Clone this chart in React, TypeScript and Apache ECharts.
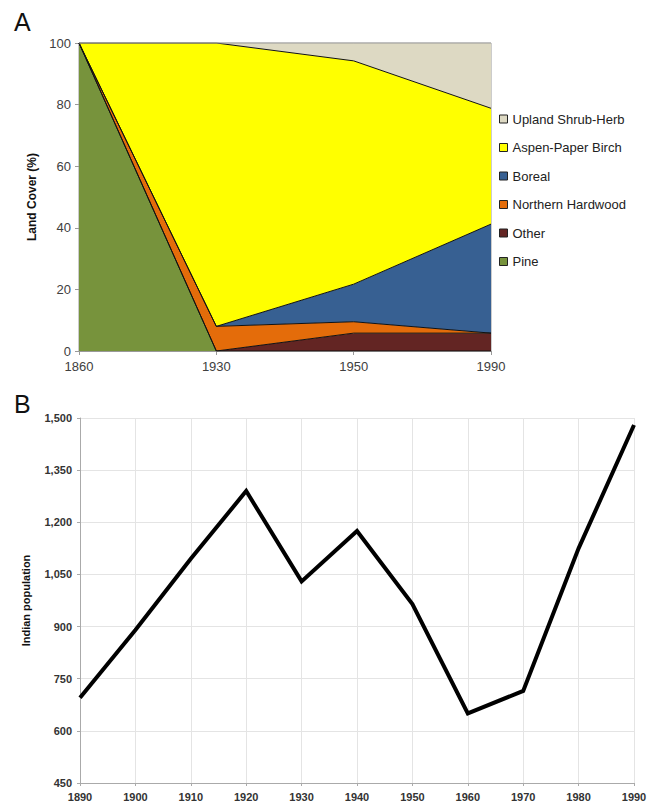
import React, { useEffect, useRef } from "react";
import * as echarts from "echarts";

// Panel A: land cover (%), stacked
const coverYears = ["1860", "1930", "1950", "1990"];
const pine = [100, 0, 0, 0];
const other = [0, 0, 5.8, 5.8];
const northernHardwood = [0, 8, 3.7, 0];
const boreal = [0, 0, 12.2, 35.4];
const aspenPaperBirch = [0, 92, 72.5, 37.6];
const uplandShrubHerb = [0, 0, 5.8, 21.2];
const legendOrder = [
  "Upland Shrub-Herb",
  "Aspen-Paper Birch",
  "Boreal",
  "Northern Hardwood",
  "Other",
  "Pine",
];

// Panel B: Indian population
const popYears = [1890, 1900, 1910, 1920, 1930, 1940, 1950, 1960, 1970, 1980, 1990];
const population = [695, 890, 1095, 1290, 1030, 1175, 965, 650, 715, 1125, 1480];

const FONT = "Liberation Sans, Arial, sans-serif";

export default function App() {
  const ref = useRef<HTMLDivElement>(null);

  useEffect(() => {
    if (!ref.current) return;
    const chart = echarts.init(ref.current, undefined, { renderer: "svg" });

    const coverSeries = [
      { name: "Pine", data: pine, color: "#77933C", line: "#111" },
      { name: "Other", data: other, color: "#632523", line: "#111" },
      { name: "Northern Hardwood", data: northernHardwood, color: "#E46C0A", line: "#111" },
      { name: "Boreal", data: boreal, color: "#376092", line: "#111" },
      { name: "Aspen-Paper Birch", data: aspenPaperBirch, color: "#FFFF00", line: "#111" },
      { name: "Upland Shrub-Herb", data: uplandShrubHerb, color: "#DDD9C3", line: "#999" },
    ].map((s) => ({
      name: s.name,
      type: "line",
      xAxisIndex: 0,
      yAxisIndex: 0,
      stack: "cover",
      data: s.data,
      symbol: "none",
      color: s.color,
      itemStyle: { color: s.color },
      lineStyle: { color: s.line, width: 1 },
      areaStyle: { color: s.color, opacity: 1 },
    }));

    chart.setOption({
      animation: false,
      textStyle: { fontFamily: FONT },
      graphic: [
        { type: "text", left: 14, top: 9, style: { text: "A", fontSize: 25, fontFamily: FONT, fill: "#111" } },
        { type: "text", left: 14, top: 391, style: { text: "B", fontSize: 25, fontFamily: FONT, fill: "#111" } },
      ],
      legend: {
        data: legendOrder,
        orient: "vertical",
        left: 494,
        top: 107,
        icon: "rect",
        itemWidth: 8,
        itemHeight: 8,
        itemGap: 14.5,
        itemStyle: { borderColor: "#222", borderWidth: 1 },
        textStyle: { fontSize: 13, color: "#222", fontFamily: FONT, lineHeight: 14 },
        selectedMode: false,
      },
      grid: [
        { left: 79, top: 43, width: 412, height: 308, show: true, borderColor: "#999", borderWidth: 1, backgroundColor: "transparent" },
        { left: 80, top: 418, width: 554, height: 365 },
      ],
      xAxis: [
        {
          type: "category",
          gridIndex: 0,
          data: coverYears,
          boundaryGap: false,
          axisLine: { lineStyle: { color: "#999" } },
          axisTick: { show: true, length: 4, lineStyle: { color: "#999" } },
          axisLabel: { fontSize: 13, color: "#404040", margin: 9, fontFamily: FONT },
          splitLine: { show: false },
        },
        {
          type: "value",
          gridIndex: 1,
          min: 1890,
          max: 1990,
          interval: 10,
          axisLine: { show: true, lineStyle: { color: "#aaa" } },
          axisTick: { show: true, length: 3, lineStyle: { color: "#aaa" } },
          axisLabel: {
            fontSize: 11,
            fontWeight: "bold",
            color: "#333",
            margin: 8,
            fontFamily: FONT,
            formatter: (v: number) => String(v),
          },
          splitLine: { show: true, lineStyle: { color: "#e4e4e4" } },
        },
      ],
      yAxis: [
        {
          type: "value",
          gridIndex: 0,
          min: 0,
          max: 100,
          interval: 20,
          name: "Land Cover (%)",
          nameLocation: "middle",
          nameGap: 37,
          nameTextStyle: { fontSize: 12, fontWeight: "bold", color: "#111", fontFamily: FONT },
          axisLine: { show: true, lineStyle: { color: "#999" } },
          axisTick: { show: true, length: 4, lineStyle: { color: "#999" } },
          axisLabel: { fontSize: 13, color: "#404040", margin: 8, fontFamily: FONT },
          splitLine: { show: false },
        },
        {
          type: "value",
          gridIndex: 1,
          min: 450,
          max: 1500,
          interval: 150,
          name: "Indian population",
          nameLocation: "middle",
          nameGap: 49,
          nameTextStyle: { fontSize: 11, fontWeight: "bold", color: "#111", fontFamily: FONT },
          axisLine: { show: true, lineStyle: { color: "#aaa" } },
          axisTick: { show: true, length: 3, lineStyle: { color: "#aaa" } },
          axisLabel: {
            fontSize: 11,
            fontWeight: "bold",
            color: "#333",
            margin: 8,
            fontFamily: FONT,
            formatter: (v: number) => v.toLocaleString("en-US"),
          },
          splitLine: { show: true, lineStyle: { color: "#e4e4e4" } },
        },
      ],
      series: [
        ...coverSeries,
        {
          name: "Indian population",
          type: "line",
          xAxisIndex: 1,
          yAxisIndex: 1,
          data: popYears.map((y, i) => [y, population[i]]),
          symbol: "none",
          lineStyle: { color: "#000", width: 4, join: "miter" },
          itemStyle: { color: "#000" },
        },
      ],
    });

    return () => chart.dispose();
  }, []);

  return (
    <div
      ref={ref}
      style={{ position: "fixed", left: 0, top: 0, width: 656, height: 806, background: "#fff" }}
    />
  );
}
